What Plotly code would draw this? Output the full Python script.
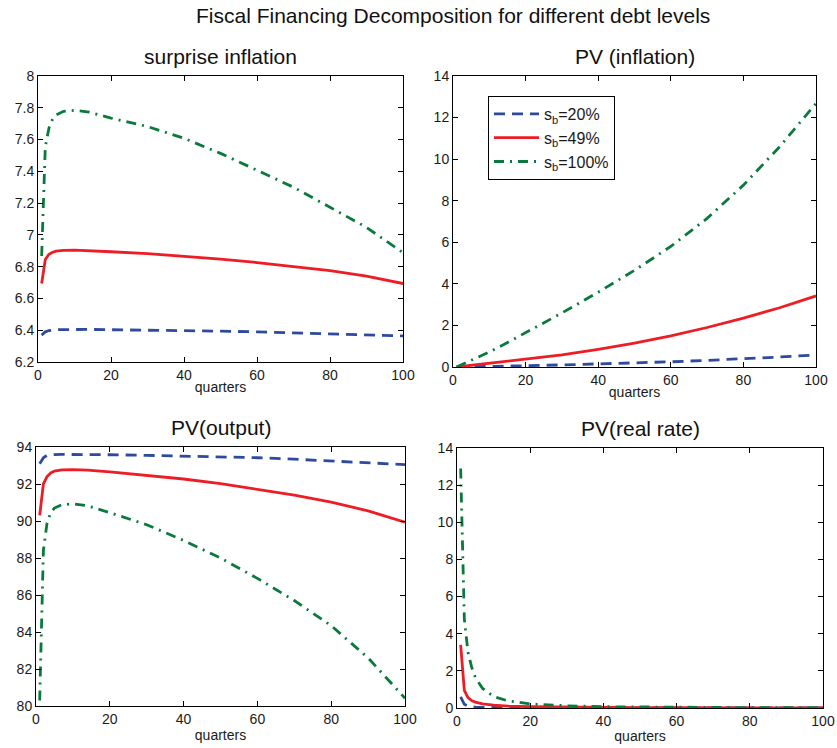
import plotly.graph_objects as go

# ---- data ----
quarters = [1, 2, 3, 4, 5, 7, 10, 14, 20, 30, 40, 50, 60, 70, 80, 90, 100]
series_names = ["s<sub>b</sub>=20%", "s<sub>b</sub>=49%", "s<sub>b</sub>=100%"]

surprise_20 = [6.369, 6.390, 6.398, 6.401, 6.403, 6.404, 6.405, 6.405, 6.403, 6.401, 6.398, 6.394, 6.390, 6.384, 6.377, 6.371, 6.364]
surprise_49 = [6.694, 6.845, 6.878, 6.891, 6.898, 6.903, 6.904, 6.901, 6.894, 6.882, 6.867, 6.848, 6.826, 6.802, 6.775, 6.740, 6.694]
surprise_100 = [6.867, 7.555, 7.672, 7.729, 7.756, 7.778, 7.784, 7.773, 7.735, 7.682, 7.608, 7.513, 7.407, 7.300, 7.174, 7.047, 6.888]

pvinf_20 = [0.0, 0.002, 0.004, 0.006, 0.008, 0.012, 0.02, 0.035, 0.06, 0.10, 0.14, 0.19, 0.25, 0.32, 0.39, 0.48, 0.58]
pvinf_49 = [0.0, 0.02, 0.035, 0.05, 0.07, 0.10, 0.16, 0.23, 0.35, 0.58, 0.85, 1.15, 1.50, 1.90, 2.35, 2.85, 3.42]
pvinf_100 = [0.0, 0.08, 0.16, 0.24, 0.32, 0.48, 0.72, 1.08, 1.65, 2.60, 3.60, 4.65, 5.80, 7.15, 8.75, 10.6, 12.68]

pvout_20 = [93.10, 93.42, 93.55, 93.58, 93.59, 93.60, 93.60, 93.60, 93.58, 93.55, 93.52, 93.47, 93.42, 93.34, 93.25, 93.16, 93.05]
pvout_49 = [90.30, 92.00, 92.40, 92.60, 92.70, 92.76, 92.78, 92.75, 92.65, 92.48, 92.27, 92.02, 91.72, 91.40, 91.02, 90.55, 89.94]
pvout_100 = [80.30, 88.40, 89.90, 90.45, 90.70, 90.88, 90.93, 90.82, 90.45, 89.80, 88.95, 88.00, 86.90, 85.70, 84.34, 82.60, 80.42]

pvrr_20 = [0.60, 0.20, 0.10, 0.07, 0.05, 0.035, 0.025, 0.018, 0.012, 0.008, 0.005, 0.004, 0.003, 0.002, 0.002, 0.001, 0.001]
pvrr_49 = [3.40, 0.95, 0.56, 0.40, 0.32, 0.22, 0.15, 0.10, 0.07, 0.045, 0.03, 0.022, 0.017, 0.013, 0.010, 0.008, 0.006]
pvrr_100 = [12.9, 4.8, 3.0, 2.2, 1.65, 1.05, 0.62, 0.38, 0.22, 0.12, 0.07, 0.05, 0.035, 0.025, 0.02, 0.015, 0.012]

x_ticks = [0, 20, 40, 60, 80, 100]
panel_titles = ["surprise inflation", "PV (inflation)", "PV(output)", "PV(real rate)"]
main_title = "Fiscal Financing Decomposition for different debt levels"
x_label = "quarters"

# ---- styling ----
W, H = 837, 748
FONT = "Liberation Sans, Arial, Helvetica, sans-serif"
TXT = "#1a1a1a"
colors = ["#2E4A9E", "#EE1D25", "#0A7A3C"]
dashes = ["11px,7px", "solid", "10px,6px,2px,6px"]
widths = [2.8, 2.8, 2.8]

panels = [
    dict(data=[surprise_20, surprise_49, surprise_100], px=(38, 403), py=(76, 362),
         yr=[6.2, 8.0], dt=0.2, standoff=0),
    dict(data=[pvinf_20, pvinf_49, pvinf_100], px=(453, 816), py=(76, 367),
         yr=[0, 14], dt=2, standoff=0),
    dict(data=[pvout_20, pvout_49, pvout_100], px=(36, 405), py=(447, 706),
         yr=[80, 94], dt=2, standoff=4),
    dict(data=[pvrr_20, pvrr_49, pvrr_100], px=(457, 823), py=(448, 708),
         yr=[0, 14], dt=2, standoff=3),
]

fig = go.Figure()
layout = dict(
    template="none",
    width=W, height=H,
    margin=dict(l=0, r=0, t=0, b=0, pad=0),
    paper_bgcolor="white", plot_bgcolor="white",
    font=dict(family=FONT, size=14, color=TXT),
    showlegend=True,
    legend=dict(x=488 / W, y=1 - 96 / H, xanchor="left", yanchor="top",
                bordercolor="black", borderwidth=1, bgcolor="white",
                font=dict(family=FONT, size=16, color=TXT),
                tracegroupgap=0, itemwidth=45),
    annotations=[],
)

for i, p in enumerate(panels):
    n = i + 1
    xa = "x" if n == 1 else f"x{n}"
    ya = "y" if n == 1 else f"y{n}"
    for k in range(3):
        fig.add_trace(go.Scatter(
            x=quarters, y=p["data"][k], xaxis=xa, yaxis=ya, mode="lines",
            name=series_names[k], showlegend=(n == 2), legendgroup=f"g{k}",
            line=dict(color=colors[k], width=widths[k], dash=dashes[k]),
        ))
    common = dict(showline=True, linecolor="black", linewidth=1, mirror="ticks",
                  ticks="inside", ticklen=5, tickcolor="black", tickwidth=1,
                  showgrid=False, zeroline=False, automargin=False,
                  tickfont=dict(family=FONT, size=14, color=TXT))
    xkey = "xaxis" if n == 1 else f"xaxis{n}"
    ykey = "yaxis" if n == 1 else f"yaxis{n}"
    layout[xkey] = dict(domain=[p["px"][0] / W, p["px"][1] / W], anchor=ya,
                        range=[0, 100], tickvals=x_ticks,
                        title=dict(text=x_label, standoff=p["standoff"],
                                   font=dict(family=FONT, size=14, color=TXT)),
                        **common)
    layout[ykey] = dict(domain=[1 - p["py"][1] / H, 1 - p["py"][0] / H], anchor=xa,
                        range=p["yr"], dtick=p["dt"], tick0=p["yr"][0], **common)
    layout["annotations"].append(dict(
        text=panel_titles[i], xref="paper", yref="paper",
        x=(p["px"][0] + p["px"][1]) / 2 / W, y=1 - (p["py"][0] - 19) / H,
        xanchor="center", yanchor="middle", showarrow=False,
        font=dict(family=FONT, size=21, color="#111111")))

layout["annotations"].append(dict(
    text=main_title, xref="paper", yref="paper", x=453 / W, y=1 - 16 / H,
    xanchor="center", yanchor="middle", showarrow=False,
    font=dict(family=FONT, size=21, color="#111111")))

fig.update_layout(**layout)
fig.write_html(
    "out.html",
    config={"displayModeBar": False},
    post_script="document.body.style.margin='0';document.body.style.overflow='hidden';",
)
